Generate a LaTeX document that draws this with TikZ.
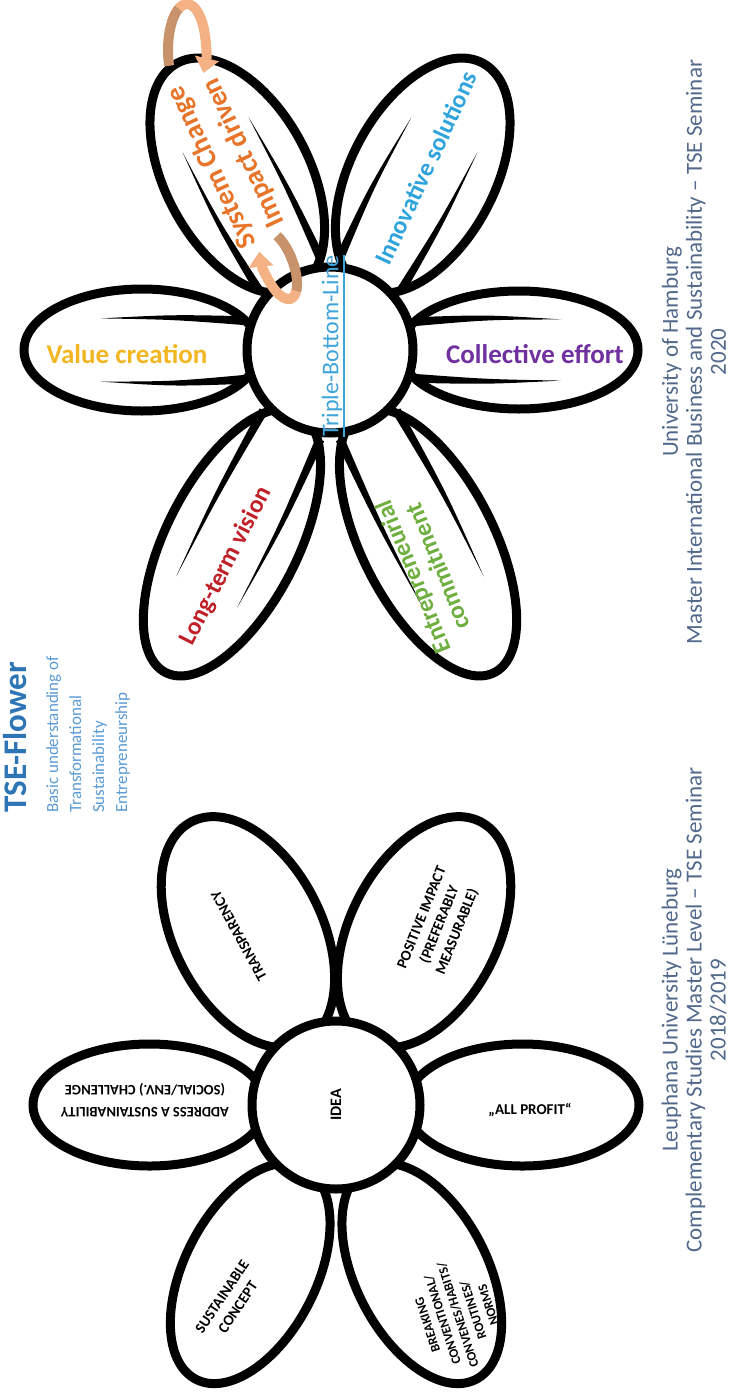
\documentclass[tikz,border=0pt]{standalone}
\usepackage{fontspec}
\setmainfont{Carlito}
\usetikzlibrary{calc,arrows.meta}

\definecolor{cVal}{RGB}{242,182,32}
\definecolor{cColl}{RGB}{112,48,160}
\definecolor{cTBL}{RGB}{63,164,218}
\definecolor{cInno}{RGB}{46,163,220}
\definecolor{cLong}{RGB}{192,32,40}
\definecolor{cEnt}{RGB}{110,175,63}
\definecolor{cSys}{RGB}{232,116,42}
\definecolor{arrLight}{RGB}{244,177,131}
\definecolor{arrDark}{RGB}{200,146,106}
\definecolor{cTitle}{RGB}{46,117,182}
\definecolor{cSub}{RGB}{91,155,213}
\definecolor{cSlate}{RGB}{82,105,140}

\tikzset{
  petal/.style={draw=black, line width=9pt},
  core/.style={draw=black, line width=9pt, fill=white},
  lab/.style={inner sep=0pt, align=center},
  toplab/.style={lab, font=\bfseries\fontsize{25}{30}\selectfont},
  idealab/.style={lab, text=black, font=\bfseries\fontsize{15}{19}\selectfont},
  caption/.style={lab, text=cSlate, font=\fontsize{23}{24}\selectfont},
  band/.style={line width=10pt, line cap=butt},
}

% tapered vein inside a petal (local frame: u along the petal axis)
\newcommand\vein[3]{%
  \fill[black] (#1,{#3+4.5}) .. controls ({#1+0.5*(#2-#1)},{1.14*(#3)+3}) ..
    (#2,{1.08*(#3)}) .. controls ({#1+0.5*(#2-#1)},{1.14*(#3)-2}) ..
    (#1,{#3-4.5}) -- cycle;}

\begin{document}
\begin{tikzpicture}[x=1pt,y=1pt]
\useasboundingbox (0,0) rectangle (732,-1394);
\fill[white] (0,0) rectangle (732,-1394);

%----------------------------------------------------------------
% Upper flower (TSE-Flower, 2020)
\coordinate (C1) at (330,-350);
\foreach \ang/\rin/\rout/\hw in {180/70/306/61, 0/70/308/59, 118/70/325/72,
                                  62/70/325/72, 243/70/362/66, 297/70/362/66}{
  \begin{scope}[shift={(C1)}, rotate=\ang]
    \pgfmathsetmacro\dd{(\rin+\rout)/2}
    \pgfmathsetmacro\aa{(\rout-\rin)/2}
    \pgfmathsetmacro\ve{0.75*\rout}
    \pgfmathsetmacro\vv{0.48*\hw}
    \draw[petal] (\dd,0) ellipse [x radius=\aa, y radius=\hw];
    \vein{84}{\ve}{\vv}
    \vein{84}{\ve}{-\vv}
  \end{scope}
}
\node[core, circle, minimum size=166pt, inner sep=0pt] (hub1) at (C1) {};

\node[toplab, text=cVal, font=\bfseries\fontsize{27}{30}\selectfont] (val) at (127,-354) {Value creation};
\node[toplab, text=cColl, font=\bfseries\fontsize{27}{30}\selectfont] (coll) at (535,-354) {Collective effort};
\node[lab, rotate=90, text=cTBL, font=\fontsize{24}{28}\selectfont] (tbl) at (332,-346) {Triple-Bottom-Line};
\draw[cTBL, line width=1.3pt] ([xshift=1.5pt]tbl.south west) -- ([xshift=1.5pt]tbl.south east);
\node[toplab, rotate=65, text=cInno] (inno) at (426,-168) {Innovative solutions};
\node[toplab, rotate=63, text=cLong] (long) at (226,-566) {Long-term vision};
\node[toplab, rotate=112, text=cEnt, font=\bfseries\fontsize{25}{27}\selectfont] (ent) at (425,-572) {Entrepreneurial\\commitment};
\node[toplab, rotate=115, text=cSys, font=\bfseries\fontsize{28}{35}\selectfont] (sys) at (228,-160) {System Change\\Impact driven};

% circular arrows around the System Change petal
\begin{scope}[shift={(187,-50)}]
  \draw[band, arrDark] (200:19 and 46) arc[start angle=200, end angle=115, x radius=19, y radius=46];
  \draw[band, arrLight, -{Triangle[length=15pt, width=24pt]}]
    (116:19 and 46) arc[start angle=116, end angle=-30, x radius=19, y radius=46];
\end{scope}
\begin{scope}[shift={(278,-265)}, rotate=21]
  \draw[band, arrDark] (50:15 and 36) arc[start angle=50, end angle=-60, x radius=15, y radius=36];
  \draw[band, arrLight, -{Triangle[length=15pt, width=24pt]}]
    (-59:15 and 36) arc[start angle=-59, end angle=-212, x radius=15, y radius=36];
\end{scope}

%----------------------------------------------------------------
% Lower flower (IDEA, 2018/2019)
\coordinate (C2) at (336,-1105);
\foreach \ang/\rin/\rout/\hw in {180/70/303/61, 0/70/303/61, 117/70/318/74,
                                  63/70/318/74, 243/70/308/66, 297/70/308/66}{
  \begin{scope}[shift={(C2)}, rotate=\ang]
    \pgfmathsetmacro\dd{(\rin+\rout)/2}
    \pgfmathsetmacro\aa{(\rout-\rin)/2}
    \draw[petal] (\dd,0) ellipse [x radius=\aa, y radius=\hw];
  \end{scope}
}
\node[core, circle, minimum size=168pt, inner sep=0pt] (hub2) at (C2) {};

\node[idealab, rotate=90, font=\bfseries\fontsize{16}{20}\selectfont] (idea) at (C2) {IDEA};
\node[idealab, rotate=180, font=\bfseries\fontsize{14.5}{22}\selectfont] (addr) at (145,-1100) {ADDRESS A SUSTAINABILITY\\(SOCIAL/ENV.) CHALLENGE};
\node[idealab] (profit) at (530,-1110) {„ALL PROFIT“};
\node[idealab, rotate=119] (transp) at (239,-936) {TRANSPARENCY};
\node[idealab, rotate=68] (posimp) at (440,-925) {POSITIVE IMPACT\\(PREFERABLY\\MEASURABLE)};
\node[idealab, rotate=56] (concept) at (230,-1302) {SUSTAINABLE\\CONCEPT};
\node[idealab, rotate=108, font=\bfseries\fontsize{13}{16}\selectfont] (breaking) at (458,-1315) {BREAKING\\CONVENTIONAL/\\CONVENES/HABITS/\\ROUTINES/\\NORMS};

%----------------------------------------------------------------
% Titles and captions
\node[lab, rotate=90, anchor=north west, text=cTitle, font=\bfseries\fontsize{33}{36}\selectfont] (title) at (3,-813) {TSE-Flower};
\node[lab, rotate=90, anchor=north west, align=left, text=cSub, font=\fontsize{17}{23}\selectfont] (sub) at (46,-813)
  {Basic understanding of\\Transformational\\Sustainability\\Entrepreneurship};
\node[caption, rotate=90] (hh) at (694,-352)
  {University of Hamburg\\Master International Business and Sustainability – TSE Seminar\\2020};
\node[caption, rotate=90] (lg) at (694,-1010)
  {Leuphana University Lüneburg\\Complementary Studies Master Level – TSE Seminar\\2018/2019};
\end{tikzpicture}
\end{document}
